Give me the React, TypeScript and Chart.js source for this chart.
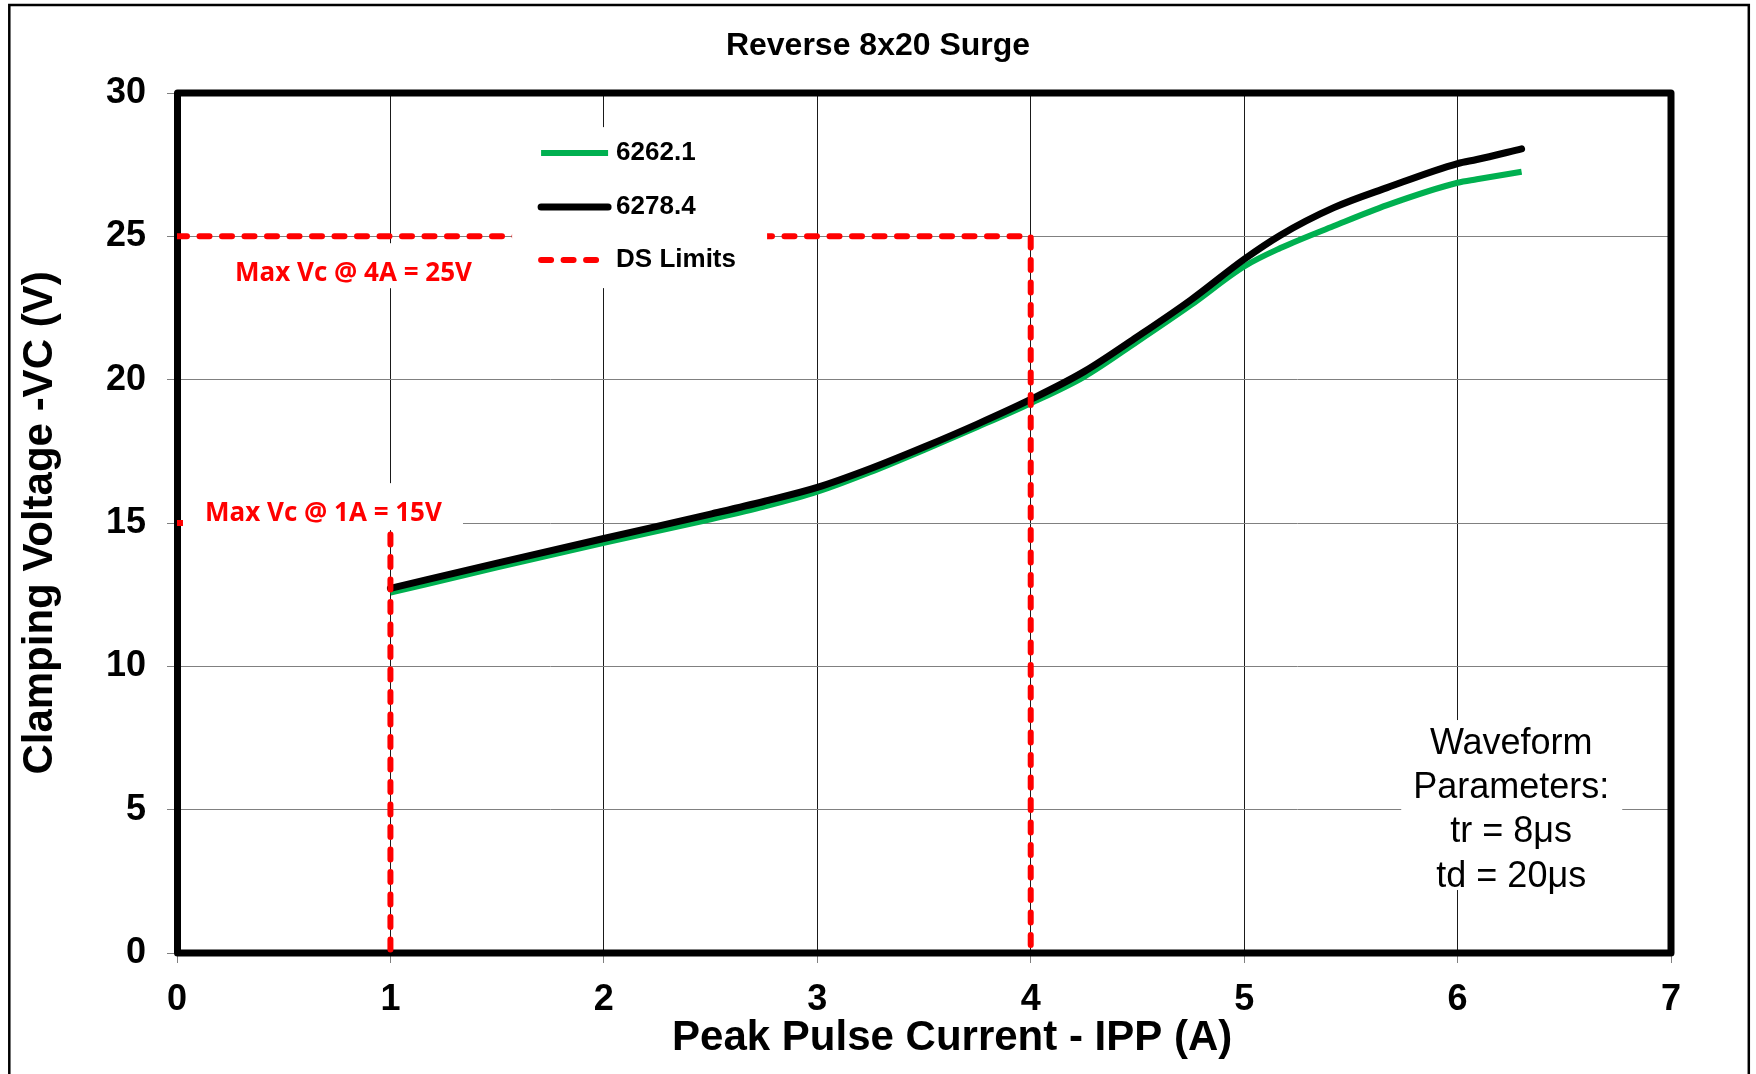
import React, { useEffect, useRef } from "react";
import { Chart, registerables } from "chart.js";

Chart.register(...registerables);

// ---------- data ----------
const chartTitle = "Reverse 8x20 Surge";
const xAxisTitle = "Peak Pulse Current - IPP (A)";
const yAxisTitle = "Clamping Voltage -VC (V)";
const xTicks = [0, 1, 2, 3, 4, 5, 6, 7];
const yTicks = [0, 5, 10, 15, 20, 25, 30];

const currentA = [1, 1.5, 2, 2.5, 2.75, 3, 3.25, 3.5, 3.75, 4, 4.25, 4.5, 4.75, 5, 5.17, 5.42, 5.67, 6, 6.09, 6.3];
const vc6262 = [12.57, 13.45, 14.31, 15.13, 15.57, 16.09, 16.78, 17.55, 18.35, 19.18, 20.1, 21.33, 22.6, 23.95, 24.59, 25.36, 26.09, 26.87, 26.99, 27.25];
const vc6278 = [12.72, 13.6, 14.46, 15.31, 15.75, 16.24, 16.9, 17.65, 18.45, 19.31, 20.28, 21.5, 22.78, 24.2, 25.04, 26.0, 26.7, 27.54, 27.68, 28.05];

const seriesLabels = ["6262.1", "6278.4", "DS Limits"];
const limitX: (number | null)[] = [0, 4, 4, null, 0, 1, 1];
const limitY: (number | null)[] = [25, 25, 0, null, 15, 15, 0];
const limitLabels = ["Max Vc @ 4A = 25V", "Max Vc @ 1A = 15V"];
const waveformLines = ["Waveform", "Parameters:", "tr = 8\u03bcs", "td = 20\u03bcs"];

// ---------- styles / placement ----------
const FONT = "'Liberation Sans', Arial, Helvetica, sans-serif";
const LABEL_FONT = "'Open Sans', 'Noto Sans', sans-serif";
const GREEN = "#00B050";
const RED = "#FF0000";

// overlay anchors in data units (top-left corner), sizes in px
const limitLabelBoxes = [
  { x: 0.178, y: 24.76, w: 278, h: 45, padX: 20, baseline: 38 },
  { x: 0.028, y: 16.39, w: 280, h: 47, padX: 22, baseline: 38 },
];
const waveformBox = { x: 5.736, y: 8.127, w: 221, h: 170, cx: 110, firstBaseline: 34, lineGap: 44.2 };
const legendBox = { x: 1.57, y: 28.81, w: 255, h: 161, rows: [26, 80, 133], line0: 29, line1: 96, textX: 104 };
const xTitlePos = { x: 3.632, baselinePx: 1050 };

const decorPlugin = {
  id: "decor",
  beforeDraw(chart: any) {
    const { ctx, width, height } = chart;
    ctx.save();
    ctx.fillStyle = "#fff";
    ctx.fillRect(0, 0, width, height);
    ctx.strokeStyle = "#000";
    ctx.lineWidth = 2.5;
    ctx.strokeRect(9.3, 5, 1739.5, height + 30);
    ctx.restore();
  },
  beforeDatasetsDraw(chart: any) {
    const { ctx, chartArea: a } = chart;
    ctx.save();
    ctx.strokeStyle = "#000";
    ctx.lineWidth = 7;
    ctx.lineJoin = "round";
    ctx.strokeRect(a.left + 0.5, a.top, a.right - a.left - 0.5, a.bottom - a.top);
    ctx.restore();
  },
  afterDatasetsDraw(chart: any) {
    const { ctx } = chart;
    const xs = chart.scales.x;
    const ys = chart.scales.y;
    ctx.save();
    // limit labels
    limitLabels.forEach((t, i) => {
      const b = limitLabelBoxes[i];
      const px = xs.getPixelForValue(b.x);
      const py = ys.getPixelForValue(b.y);
      ctx.fillStyle = "#fff";
      ctx.fillRect(px, py, b.w, b.h);
      ctx.fillStyle = RED;
      ctx.font = `bold 26px ${LABEL_FONT}`;
      ctx.textAlign = "left";
      ctx.textBaseline = "alphabetic";
      ctx.fillText(t, px + b.padX, py + b.baseline);
    });
    // waveform box
    {
      const b = waveformBox;
      const px = xs.getPixelForValue(b.x);
      const py = ys.getPixelForValue(b.y);
      ctx.fillStyle = "#fff";
      ctx.fillRect(px, py, b.w, b.h);
      ctx.fillStyle = "#000";
      ctx.font = `36px ${FONT}`;
      ctx.textAlign = "center";
      ctx.textBaseline = "alphabetic";
      waveformLines.forEach((line, i) => {
        ctx.fillText(line, px + b.cx, py + b.firstBaseline + i * b.lineGap);
      });
    }
    // legend
    {
      const b = legendBox;
      const px = xs.getPixelForValue(b.x);
      const py = ys.getPixelForValue(b.y);
      ctx.fillStyle = "#fff";
      ctx.fillRect(px, py, b.w, b.h);
      chart.data.datasets.forEach((ds: any, i: number) => {
        const y = py + b.rows[i];
        ctx.save();
        ctx.strokeStyle = ds.borderColor;
        ctx.lineWidth = ds.borderWidth;
        ctx.lineCap = ds.borderCapStyle || "butt";
        ctx.setLineDash(ds.borderDash || []);
        ctx.beginPath();
        ctx.moveTo(px + b.line0, y);
        ctx.lineTo(px + b.line1, y);
        ctx.stroke();
        ctx.restore();
        ctx.fillStyle = "#000";
        ctx.font = `bold 26px ${FONT}`;
        ctx.textAlign = "left";
        ctx.textBaseline = "middle";
        ctx.fillText(ds.label, px + b.textX, y);
      });
    }
    ctx.restore();
  },
  afterDraw(chart: any) {
    const { ctx } = chart;
    const xs = chart.scales.x;
    ctx.save();
    ctx.fillStyle = "#000";
    ctx.font = `bold 42px ${FONT}`;
    ctx.textAlign = "center";
    ctx.textBaseline = "alphabetic";
    ctx.fillText(xAxisTitle, xs.getPixelForValue(xTitlePos.x), xTitlePos.baselinePx);
    ctx.restore();
  },
};

export default function App() {
  const canvasRef = useRef<HTMLCanvasElement | null>(null);

  useEffect(() => {
    if (!canvasRef.current) return;
    const chart = new Chart(canvasRef.current, {
      type: "line",
      data: {
        datasets: [
          {
            label: seriesLabels[0],
            data: currentA.map((x, i) => ({ x, y: vc6262[i] })),
            borderColor: GREEN,
            backgroundColor: GREEN,
            borderWidth: 6,
            borderCapStyle: "butt",
            pointRadius: 0,
            cubicInterpolationMode: "monotone",
            order: 3,
          },
          {
            label: seriesLabels[1],
            data: currentA.map((x, i) => ({ x, y: vc6278[i] })),
            borderColor: "#000",
            backgroundColor: "#000",
            borderWidth: 7,
            borderCapStyle: "round",
            borderJoinStyle: "round",
            pointRadius: 0,
            cubicInterpolationMode: "monotone",
            order: 2,
          },
          {
            label: seriesLabels[2],
            data: limitX.map((x, i) => ({ x, y: limitY[i] })) as any,
            borderColor: RED,
            backgroundColor: RED,
            borderWidth: 6,
            borderDash: [10, 12.5],
            borderCapStyle: "round",
            pointRadius: 0,
            tension: 0,
            spanGaps: false,
            order: 1,
          },
        ],
      },
      options: {
        animation: false,
        responsive: false,
        devicePixelRatio: 1,
        layout: { padding: 0 },
        plugins: {
          legend: { display: false },
          tooltip: { enabled: false },
          title: {
            display: true,
            text: chartTitle,
            color: "#000",
            font: { family: FONT, size: 32, weight: "bold", lineHeight: 1.2 },
            padding: { top: 27, bottom: 27.6 },
          },
        },
        scales: {
          x: {
            type: "linear",
            min: 0,
            max: 7,
            afterBuildTicks: (s: any) => {
              s.ticks = xTicks.map((v) => ({ value: v }));
            },
            afterFit: (s: any) => {
              s.height = 121;
            },
            ticks: {
              color: "#000",
              padding: 15,
              font: { family: FONT, size: 36, weight: "bold" },
            },
            grid: { color: "#1a1a1a", lineWidth: 1, tickLength: 10, tickColor: "#808080" },
            border: { display: false },
          },
          y: {
            type: "linear",
            min: 0,
            max: 30,
            afterBuildTicks: (s: any) => {
              s.ticks = yTicks.map((v) => ({ value: v }));
            },
            afterFit: (s: any) => {
              s.width = 177;
            },
            ticks: {
              color: "#000",
              padding: 21,
              font: { family: FONT, size: 36, weight: "bold" },
            },
            grid: { color: "#808080", lineWidth: 1, tickLength: 10, tickColor: "#808080" },
            border: { display: false },
            title: {
              display: true,
              text: yAxisTitle,
              color: "#000",
              font: { family: FONT, size: 42, weight: "bold", lineHeight: 1.2 },
              padding: { top: 15, bottom: 0 },
            },
          },
          yRight: {
            type: "linear",
            position: "right",
            min: 0,
            max: 30,
            display: true,
            ticks: { display: false },
            grid: { display: false, drawTicks: false },
            border: { display: false },
            afterFit: (s: any) => {
              s.width = 85;
            },
          },
        },
      },
      plugins: [decorPlugin],
    } as any);
    return () => chart.destroy();
  }, []);

  return (
    <div style={{ position: "fixed", left: 0, top: 0, width: 1756, height: 1074, background: "#fff" }}>
      <canvas ref={canvasRef} width={1756} height={1074} style={{ display: "block", width: 1756, height: 1074 }} />
    </div>
  );
}
